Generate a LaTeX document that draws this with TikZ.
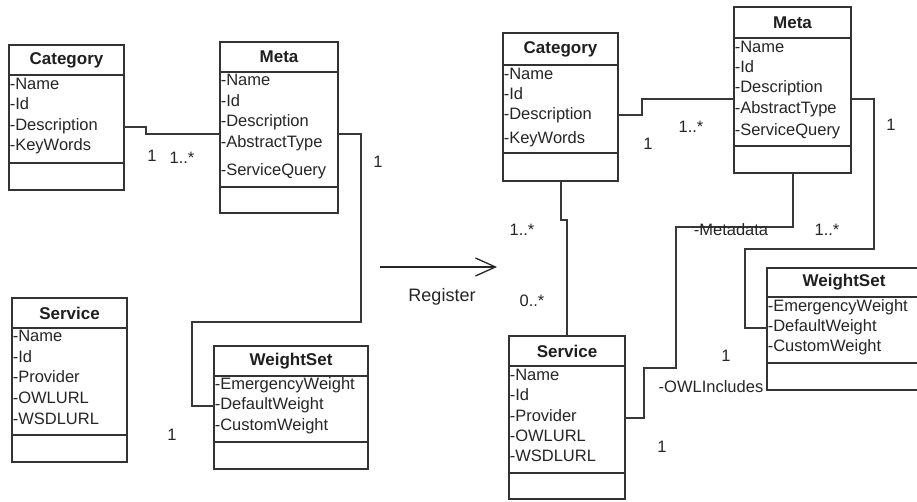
\documentclass[tikz,border=0pt]{standalone}
\usepackage{fontspec}
\setmainfont{Liberation Sans}
\usetikzlibrary{arrows.meta}
% name, x1, y1, x2, y2, sep1, sep2, title
\newcommand\umlclassbox[8]{%
  \node[umlbox, minimum width={(#4-#2)*1pt}, minimum height={(#5-#3)*1pt}] (#1) at ({(#2+#4)/2},{(#3+#5)/2}) {};
  \draw[umlsep] (#1.west |- {(0,#6)}) -- (#1.east |- {(0,#6)});
  \draw[umlsep] (#1.west |- {(0,#7)}) -- (#1.east |- {(0,#7)});
  \node[umltitle] (#1-t) at ({(#2+#4)/2},{(#3+#6)/2}) {#8};
}
% name, x, y, text
\newcommand\umlattrib[4]{\node[umlattr] (#1) at ({#2+0.6},#3) {#4};}
\begin{document}
\begin{tikzpicture}[x=1pt,y=-1pt,
  umlbox/.style={draw=black!80, line width=1.6pt, inner sep=0pt, outer sep=0pt},
  umlsep/.style={draw=black!80, line width=1.6pt},
  umltitle/.style={font=\fontsize{17}{20}\selectfont\bfseries, text=black!88, inner sep=0pt},
  umlattr/.style={font=\fontsize{16.5}{19}\selectfont, text=black!85, inner sep=0pt, anchor=mid west},
  assoc/.style={draw=black!78, line width=1.5pt, line join=miter},
  mult/.style={font=\fontsize{16.5}{19}\selectfont, text=black!85, inner sep=0pt},
  regarrow/.style={draw=black!85, line width=1.3pt, -{Straight Barb[length=20pt, width=18pt, line width=1.3pt]}},
]
\clip (0,0) rectangle (917,502);
\fill[white] (0,0) rectangle (917,502);

% ---------------- left diagram ----------------
\umlclassbox{lcat}{9}{45}{124}{190}{75}{163}{Category}
\umlattrib{lcat-name}{9}{87}{-Name}
\umlattrib{lcat-id}{9}{107}{-Id}
\umlattrib{lcat-desc}{9}{128}{-Description}
\umlattrib{lcat-kw}{9}{148}{-KeyWords}

\umlclassbox{lmeta}{220}{42}{338}{213}{72}{187}{Meta}
\umlattrib{lmeta-name}{220}{83}{-Name}
\umlattrib{lmeta-id}{220}{104}{-Id}
\umlattrib{lmeta-desc}{220}{124}{-Description}
\umlattrib{lmeta-abs}{220}{145}{-AbstractType}
\umlattrib{lmeta-sq}{220}{173}{-ServiceQuery}

\umlclassbox{lserv}{12}{298}{127}{462}{328}{435}{Service}
\umlattrib{lserv-name}{12}{339}{-Name}
\umlattrib{lserv-id}{12}{360}{-Id}
\umlattrib{lserv-prov}{12}{380}{-Provider}
\umlattrib{lserv-owl}{12}{401}{-OWLURL}
\umlattrib{lserv-wsdl}{12}{422}{-WSDLURL}

\umlclassbox{lws}{214}{346}{368}{469}{376}{442}{WeightSet}
\umlattrib{lws-em}{214}{387}{-EmergencyWeight}
\umlattrib{lws-def}{214}{407}{-DefaultWeight}
\umlattrib{lws-cus}{214}{428}{-CustomWeight}

\draw[assoc] (lcat.east |- {(0,127)}) -- (146,127) -- (146,134) -- (lmeta.west |- {(0,134)});
\draw[assoc] (lmeta.east |- {(0,134)}) -- (361,134) -- (361,322) -- (192,322) -- (192,406) -- (lws.west |- {(0,406)});

\node[mult] (lm1) at (152,156) {1};
\node[mult] (lm2) at (182,158) {1..*};
\node[mult] (lm3) at (378,162) {1};
\node[mult] (lm4) at (172,435) {1};

% ---------------- arrow ----------------
\coordinate (arrS) at (380,267);
\coordinate (arrE) at (497,267);
\draw[regarrow] (arrS) -- (arrE);
\node[mult, font=\fontsize{18}{21}\selectfont] (reg) at (442,297) {Register};

% ---------------- right diagram ----------------
\umlclassbox{rcat}{503}{33}{618}{181}{65}{153}{Category}
\umlattrib{rcat-name}{503}{77}{-Name}
\umlattrib{rcat-id}{503}{97}{-Id}
\umlattrib{rcat-desc}{503}{117}{-Description}
\umlattrib{rcat-kw}{503}{141}{-KeyWords}

\umlclassbox{rmeta}{734}{7}{851}{173}{38}{146}{Meta}
\umlattrib{rmeta-name}{734}{50}{-Name}
\umlattrib{rmeta-id}{734}{70}{-Id}
\umlattrib{rmeta-desc}{734}{90}{-Description}
\umlattrib{rmeta-abs}{734}{111}{-AbstractType}
\umlattrib{rmeta-sq}{734}{133}{-ServiceQuery}

\umlclassbox{rserv}{509}{336}{625}{499}{366}{473}{Service}
\umlattrib{rserv-name}{509}{378}{-Name}
\umlattrib{rserv-id}{509}{398}{-Id}
\umlattrib{rserv-prov}{509}{419}{-Provider}
\umlattrib{rserv-owl}{509}{439}{-OWLURL}
\umlattrib{rserv-wsdl}{509}{459}{-WSDLURL}

\umlclassbox{rws}{767}{268}{921}{390}{297}{363}{WeightSet}
\umlattrib{rws-em}{767}{309}{-EmergencyWeight}
\umlattrib{rws-def}{767}{329}{-DefaultWeight}
\umlattrib{rws-cus}{767}{349}{-CustomWeight}

\draw[assoc] (rcat.east |- {(0,115)}) -- (642,115) -- (642,99) -- (rmeta.west |- {(0,99)});
\draw[assoc] (rmeta.east |- {(0,99)}) -- (874,99) -- (874,249) -- (745,249) -- (745,328) -- (rws.west |- {(0,328)});
\draw[assoc] (rmeta.south -| {(793,0)}) -- (793,227) -- (676,227) -- (676,368) -- (644,368) -- (644,418) -- (rserv.east |- {(0,418)});
\draw[assoc] (rcat.south -| {(561,0)}) -- (561,220) -- (567,220) -- (rserv.north -| {(567,0)});

\node[mult] (rm1) at (691,127) {1..*};
\node[mult] (rm2) at (648,144) {1};
\node[mult] (rm3) at (891,125) {1};
\node[mult] (rm4) at (827,230) {1..*};
\node[mult] (rm5) at (731,230) {-Metadata};
\node[mult] (rm6) at (522,230) {1..*};
\node[mult] (rm7) at (532,301) {0..*};
\node[mult] (rm8) at (726,356) {1};
\node[mult] (rm9) at (711,387) {-OWLIncludes};
\node[mult] (rm10) at (662,447) {1};
\end{tikzpicture}
\end{document}
